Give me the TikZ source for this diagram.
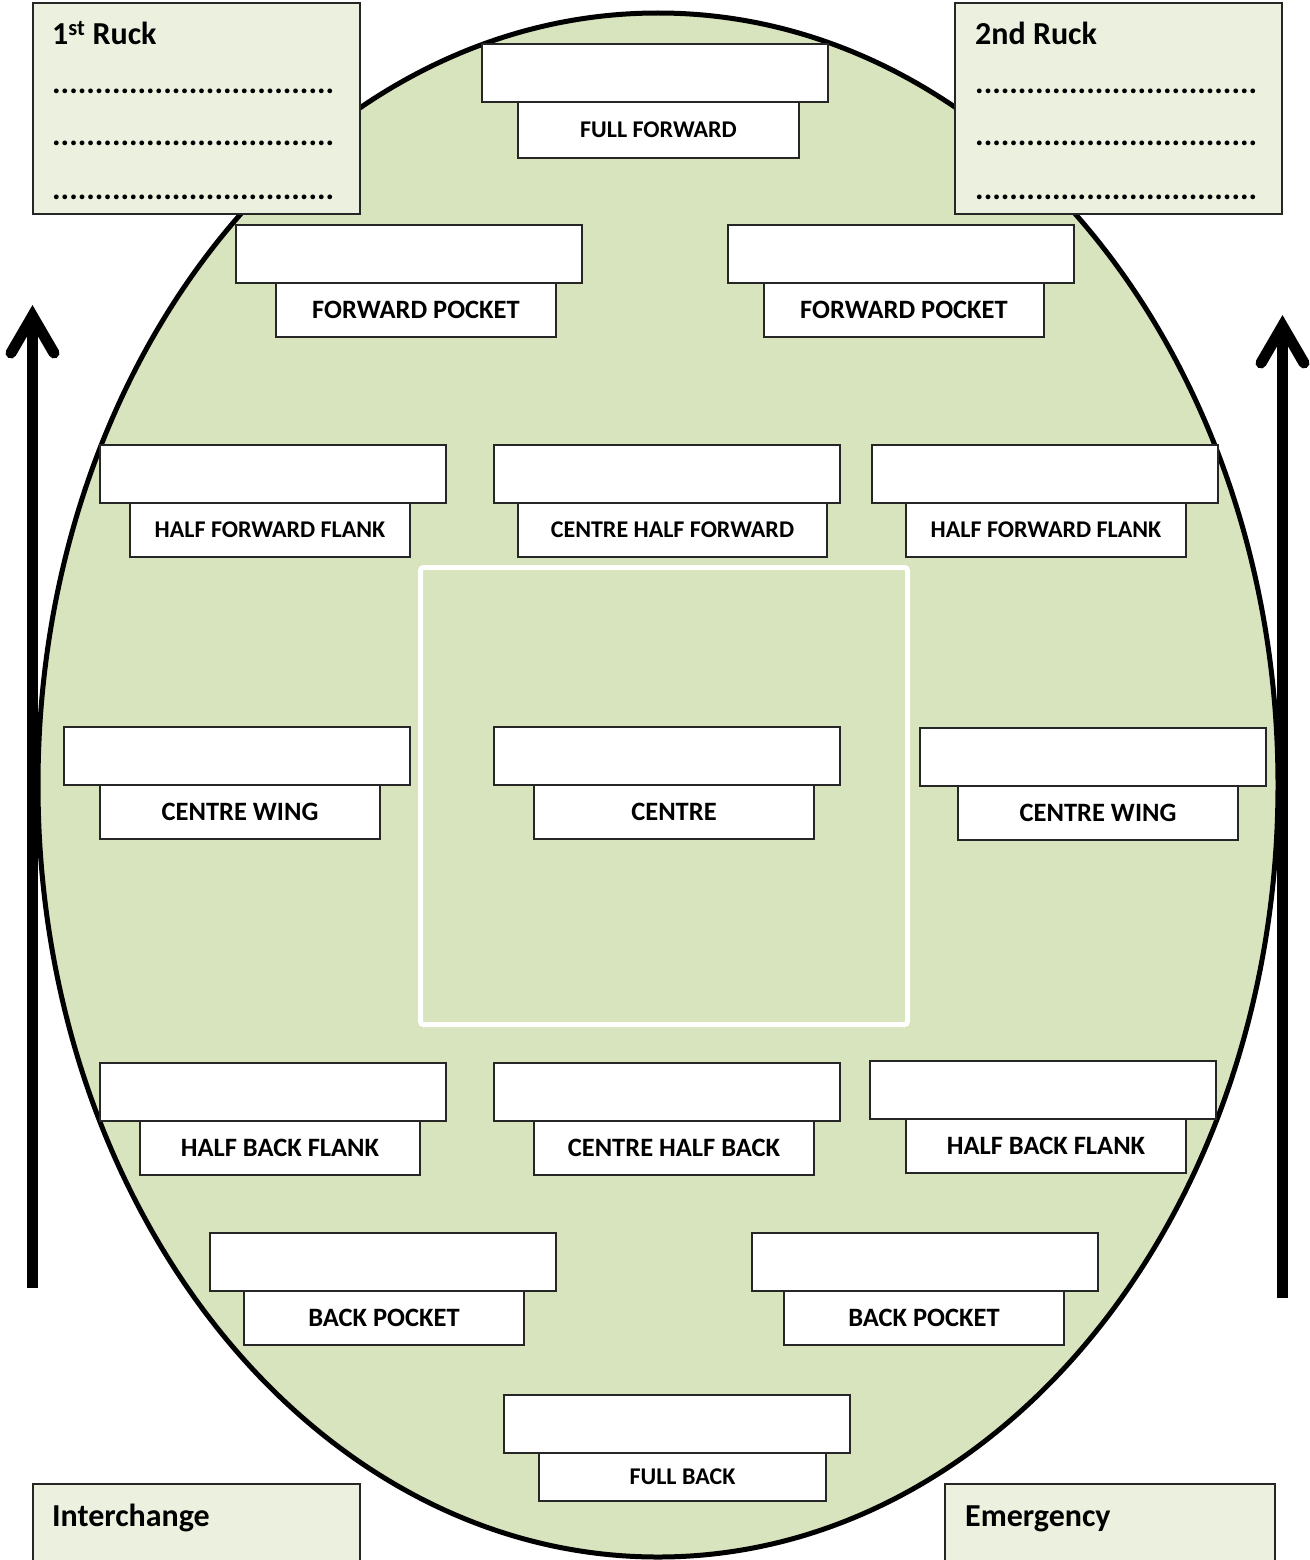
\documentclass[tikz,border=0pt]{standalone}
\usepackage{fontspec}
\setmainfont{Carlito}
\definecolor{fieldgreen}{HTML}{D7E4BD}
\definecolor{ruckgreen}{HTML}{EBF1DE}
\definecolor{edge}{HTML}{262626}
\begin{document}
\begin{tikzpicture}[x=1pt,y=-1pt,
  namebox/.style={draw=edge, line width=1.4, fill=white, inner sep=0, minimum width=346, minimum height=58},
  labbox/.style={draw=edge, line width=1.4, fill=white, inner sep=0, minimum height=54},
  lbig/.style={font=\fontsize{26.5}{30}\selectfont\bfseries},
  lsmall/.style={font=\fontsize{24}{28}\selectfont\bfseries},
  ruckbox/.style={draw=edge, line width=1.4, fill=ruckgreen, inner sep=0},
  head/.style={font=\fontsize{32}{36}\selectfont\bfseries, inner sep=0, anchor=base west},
  dotline/.style={font=\fontsize{32}{36}\selectfont\bfseries, inner sep=0, anchor=base west},
  bigarrow/.style={line width=11},
  arrowhead/.style={line width=11, line cap=round, line join=miter}
]
\useasboundingbox (0,0) rectangle (1309,1560);
% field
\draw[line width=5, fill=fieldgreen] (658,785) ellipse [x radius=620, y radius=772];
% centre square
\draw[white, line width=5, rounded corners=3] (420.5,567.5) rectangle (907.5,1024.5);
% positions
\node[namebox] (ffn) at (655,73) {};
\node[labbox, lsmall, minimum width=281, minimum height=56] (ffl) at (658.5,130) {FULL FORWARD};
\node[namebox] (fpln) at (409,254) {};
\node[labbox, lbig, minimum width=280] (fpll) at (416,310) {FORWARD POCKET};
\node[namebox] (fprn) at (901,254) {};
\node[labbox, lbig, minimum width=280] (fprl) at (904,310) {FORWARD POCKET};
\node[namebox] (hffln) at (273,474) {};
\node[labbox, lsmall, minimum width=280] (hffll) at (270,530) {HALF FORWARD FLANK};
\node[namebox] (chfn) at (667,474) {};
\node[labbox, lsmall, minimum width=309] (chfl) at (672.5,530) {CENTRE HALF FORWARD};
\node[namebox] (hffrn) at (1045,474) {};
\node[labbox, lsmall, minimum width=280] (hffrl) at (1046,530) {HALF FORWARD FLANK};
\node[namebox] (cwln) at (237,756) {};
\node[labbox, lbig, minimum width=280] (cwll) at (240,812) {CENTRE WING};
\node[namebox] (cn) at (667,756) {};
\node[labbox, lbig, minimum width=280] (cl) at (674,812) {CENTRE};
\node[namebox] (cwrn) at (1093,757) {};
\node[labbox, lbig, minimum width=280] (cwrl) at (1098,813) {CENTRE WING};
\node[namebox] (hbfln) at (273,1092) {};
\node[labbox, lbig, minimum width=280] (hbfll) at (280,1148) {HALF BACK FLANK};
\node[namebox] (chbn) at (667,1092) {};
\node[labbox, lbig, minimum width=280] (chbl) at (674,1148) {CENTRE HALF BACK};
\node[namebox] (hbfrn) at (1043,1090) {};
\node[labbox, lbig, minimum width=280] (hbfrl) at (1046,1146) {HALF BACK FLANK};
\node[namebox] (bpln) at (383,1262) {};
\node[labbox, lbig, minimum width=280] (bpll) at (384,1318) {BACK POCKET};
\node[namebox] (bprn) at (925,1262) {};
\node[labbox, lbig, minimum width=280] (bprl) at (924,1318) {BACK POCKET};
\node[namebox] (fbn) at (677,1424) {};
\node[labbox, lsmall, minimum width=287, minimum height=48] (fbl) at (682.5,1477) {FULL BACK};
% ruck boxes
\node[ruckbox, minimum width=327, minimum height=211] (r1) at (196.5,108.5) {};
\node[ruckbox, minimum width=327, minimum height=211] (r2) at (1118.5,108.5) {};
\node[ruckbox, minimum width=327, minimum height=90] (ich) at (196.5,1529) {};
\node[ruckbox, minimum width=330, minimum height=90] (emg) at (1110,1529) {};
\node[head] (r1t) at (52,45) {1\textsuperscript{st} Ruck};
\node[dotline] (r1d1) at (52,94) {.................................};
\node[dotline] (r1d2) at (52,146) {.................................};
\node[dotline] (r1d3) at (52,199) {.................................};
\node[head] (r2t) at (975,45) {2nd Ruck};
\node[dotline] (r2d1) at (975,94) {.................................};
\node[dotline] (r2d2) at (975,146) {.................................};
\node[dotline] (r2d3) at (975,199) {.................................};
\node[head] (icht) at (52,1526) {Interchange};
\node[head] (emgt) at (965,1526) {Emergency};
% arrows
\coordinate (la0) at (32.5,1288);
\coordinate (la1) at (32.5,316);
\coordinate (law1) at (11,353);
\coordinate (law2) at (54,353);
\draw[bigarrow] (la0) -- (la1);
\draw[arrowhead] (law1) -- (la1) -- (law2);
\coordinate (ra0) at (1282.5,1298);
\coordinate (ra1) at (1282.5,326);
\coordinate (raw1) at (1261,363);
\coordinate (raw2) at (1304,363);
\draw[bigarrow] (ra0) -- (ra1);
\draw[arrowhead] (raw1) -- (ra1) -- (raw2);
\end{tikzpicture}
\end{document}
